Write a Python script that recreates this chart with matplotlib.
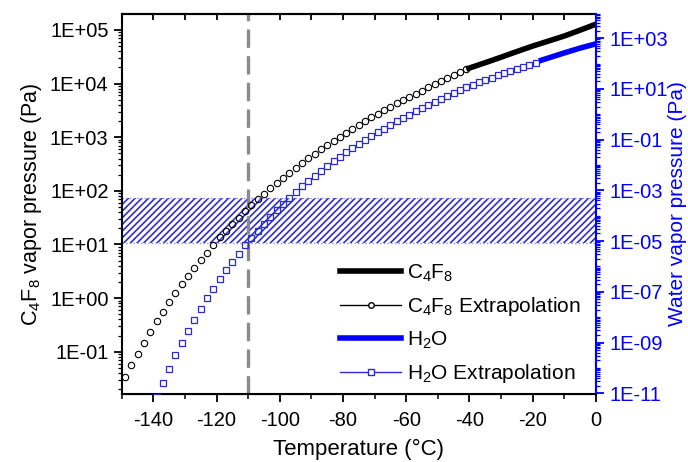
import numpy as np
import matplotlib
matplotlib.use("Agg")
import matplotlib.pyplot as plt
from matplotlib.lines import Line2D
from matplotlib.ticker import FixedLocator, LogLocator, MultipleLocator, FuncFormatter, NullFormatter

# ---- data ----------------------------------------------------------------- #
c4f8_ext_t = np.arange(-149, -40, 2)
c4f8_ext_p = [0.034, 0.056, 0.091, 0.148, 0.234, 0.37, 0.556, 0.83, 1.23, 1.80,
              2.57, 3.67, 5.13, 7.08, 9.9, 13.5, 18.2, 24.0, 31.6, 41.7,
              54.3, 70.8, 89.1, 115, 141, 174, 214, 269, 331, 407,
              490, 603, 724, 851, 1023, 1202, 1413, 1698, 1995, 2344,
              2754, 3162, 3715, 4266, 4898, 5623, 6457, 7413, 8511, 9772,
              11220, 12590, 14450, 16220, 18620]
c4f8_t = [-41, -35, -30, -25, -20, -15, -10, -5, 0]
c4f8_p = [18620, 24500, 31000, 39500, 50000, 62000, 77000, 99000, 128000]

h2o_ext_t = np.arange(-139, -18, 2)
h2o_ext_p = [7.1e-12, 2.6e-11, 9.1e-11, 3.2e-10, 9.8e-10, 2.95e-9, 8.1e-9, 2.14e-8, 5.6e-8, 1.35e-7,
             3.2e-7, 7.1e-7, 1.55e-6, 3.2e-6, 6.9e-6, 1.38e-5, 2.6e-5, 4.9e-5, 8.9e-5, 1.66e-4,
             2.95e-4, 5.1e-4, 8.7e-4, 1.45e-3, 2.4e-3, 3.8e-3, 6.0e-3, 9.1e-3, 0.0141, 0.0214,
             0.0324, 0.0479, 0.0692, 0.0977, 0.138, 0.195, 0.275, 0.380, 0.525, 0.724,
             0.977, 1.32, 1.78, 2.34, 3.09, 4.07, 5.37, 6.92, 8.91, 11.5,
             14.8, 18.6, 22.4, 27.5, 33.9, 40.7, 50.1, 60.3, 74.1, 89.1, 110]
h2o_t = [-18, -15, -10, -5, 0]
h2o_p = [126, 166, 263, 407, 600]

band_lo, band_hi = 10.5, 72       # hatched band, C4F8 axis (Pa)
t_line = -110                     # dashed marker line (°C)

BLUE = "#0000ff"
SQ = "#2a2ad0"

plt.rcParams.update({"font.family": ["Liberation Sans", "DejaVu Sans"],
                     "font.size": 14, "axes.unicode_minus": False,
                     "mathtext.fontset": "custom", "mathtext.rm": "Liberation Sans",
                     "mathtext.default": "regular", "hatch.linewidth": 1.2})

fig = plt.figure(figsize=(6.88, 4.62), dpi=100)
ax = fig.add_axes([0.177, 0.147, 0.689, 0.823])
ax2 = ax.twinx()

ax.set_xlim(-150, 0)
ax.set_yscale("log")
ax.set_ylim(10 ** -1.79, 10 ** 5.30)
ax2.set_yscale("log")
ax2.set_ylim(10 ** -11.03, 10 ** 3.96)

# hatched band and vertical marker
ax.axhspan(band_lo, band_hi, facecolor="none", edgecolor="#2e2ec8", hatch="/////", lw=0, zorder=1)
for yb in (band_lo, band_hi):
    ax.axhline(yb, color="#9090e8", lw=1.0, ls=":", zorder=1)
ax.axvline(t_line, color="#8a8a8a", lw=2.4, ls=(0, (5.5, 2.5)), zorder=2)

ax.plot(c4f8_ext_t, c4f8_ext_p, ls="none", marker="o", ms=4.6, mfc="none",
        mec="black", mew=0.8, zorder=3)
ax.plot(c4f8_t, c4f8_p, color="black", lw=4, solid_capstyle="butt", zorder=3)
ax2.plot(h2o_ext_t, h2o_ext_p, ls="none", marker="s", ms=4.2, mfc="none",
         mec=SQ, mew=0.9, zorder=3)
ax2.plot(h2o_t, h2o_p, color=BLUE, lw=4, solid_capstyle="butt", zorder=3)

# axes styling
ax.xaxis.set_major_locator(MultipleLocator(20))
ax.xaxis.set_minor_locator(MultipleLocator(10))
ax.tick_params(axis="x", which="major", direction="out", length=6, width=1.3,
               labelsize=14.5, pad=6)
ax.tick_params(axis="x", which="minor", direction="out", length=3.5, width=1.1)
top = ax.secondary_xaxis("top")
top.xaxis.set_major_locator(MultipleLocator(10))
top.tick_params(direction="in", length=4, width=1.3, labeltop=False)
top.spines["top"].set_linewidth(1.5)

fmt = FuncFormatter(lambda v, p: "1E{:+03d}".format(int(round(np.log10(v)))))
ax.yaxis.set_major_locator(LogLocator(base=10, numticks=20))
ax.yaxis.set_minor_locator(LogLocator(base=10, subs=np.arange(2, 10), numticks=20))
ax.yaxis.set_major_formatter(fmt)
ax.yaxis.set_minor_formatter(NullFormatter())
ax.tick_params(axis="y", which="major", direction="out", length=6, width=1.3, labelsize=14.5)
ax.tick_params(axis="y", which="minor", direction="out", length=3, width=0.9)

ax2.yaxis.set_major_locator(FixedLocator([10.0 ** k for k in range(-11, 5, 2)]))
ax2.yaxis.set_minor_locator(LogLocator(base=10, subs=np.arange(1, 10), numticks=40))
ax2.yaxis.set_major_formatter(fmt)
ax2.yaxis.set_minor_formatter(NullFormatter())
ax2.tick_params(axis="y", which="major", direction="out", length=6, width=1.3,
                labelsize=14.5, colors=BLUE)
ax2.tick_params(axis="y", which="minor", direction="out", length=3, width=0.9, colors=BLUE)

for s in ("left", "bottom", "top"):
    ax.spines[s].set_linewidth(1.5)
ax2.spines["right"].set_color(BLUE)
ax2.spines["right"].set_linewidth(1.5)
ax2.spines["left"].set_visible(False)
ax2.spines["top"].set_visible(False)
ax.spines["right"].set_visible(False)

ax.set_xlabel("Temperature (°C)", fontsize=16, labelpad=6.5)
ax.set_ylabel("C$_4$F$_8$ vapor pressure (Pa)", fontsize=15.5, labelpad=4)
ax2.set_ylabel("Water vapor pressure (Pa)", fontsize=15, color=BLUE, labelpad=0)

handles = [
    Line2D([], [], color="black", lw=4),
    Line2D([], [], color="black", lw=1, marker="o", ms=4, mfc="white", mec="black"),
    Line2D([], [], color=BLUE, lw=4),
    Line2D([], [], color=SQ, lw=1, marker="s", ms=4, mfc="white", mec=SQ),
]
labels = ["C$_4$F$_8$", "C$_4$F$_8$ Extrapolation", "H$_2$O", "H$_2$O Extrapolation"]
ax2.legend(handles, labels, loc="lower right", bbox_to_anchor=(0.995, -0.01),
           frameon=False, fontsize=15, handlelength=2.9, handletextpad=0.3,
           labelspacing=0.55, borderaxespad=0.2)

fig.savefig("out.png", dpi=100)
